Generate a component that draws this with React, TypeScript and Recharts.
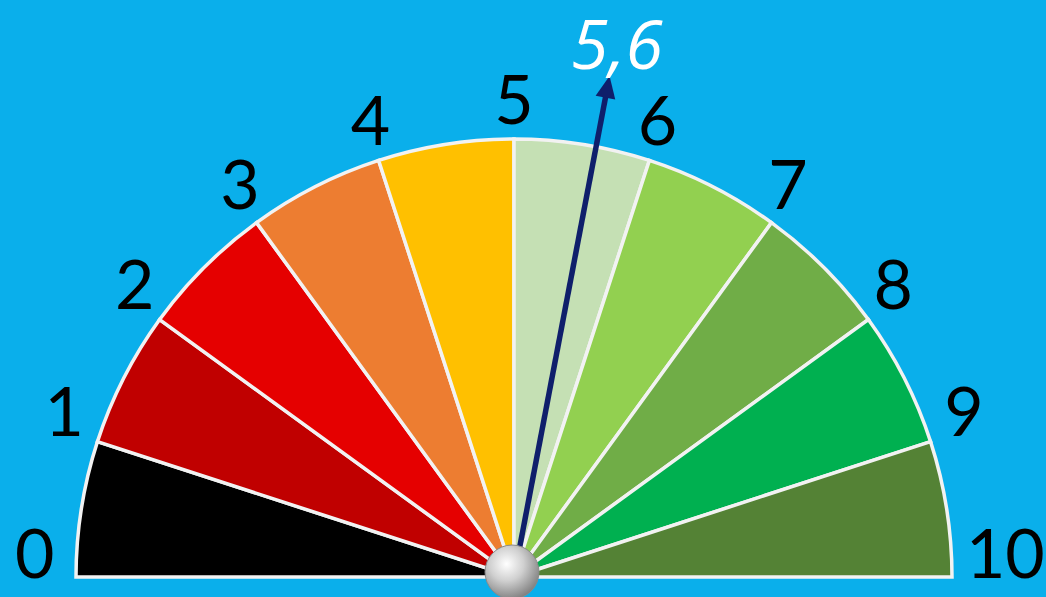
import { PieChart, Pie, Cell } from 'recharts';

const sectorNames = ['0-1', '1-2', '2-3', '3-4', '4-5', '5-6', '6-7', '7-8', '8-9', '9-10'];
const sectorValues = [1, 1, 1, 1, 1, 1, 1, 1, 1, 1];
const sectorColors = ['#000000', '#C00000', '#E50000', '#ED7D31', '#FFC000', '#C5E0B4', '#92D050', '#70AD47', '#00B050', '#548235'];
const tickLabels = ['0', '1', '2', '3', '4', '5', '6', '7', '8', '9', '10'];
const score = 5.6;
const maxScore = 10;
const scoreLabel = '5,6';

const CX = 514;
const CY = 577;
const R = 438;
const RAD = Math.PI / 180;

const sectorData = sectorNames.map((name, i) => ({ name, value: sectorValues[i] }));
const tickData = tickLabels.map((name) => ({ name, value: 1 }));
const needleData = [
  { name: 'score', value: score },
  { name: 'rest', value: maxScore - score },
];

const renderTick = (props: any) => {
  const { cx, cy, midAngle, index } = props;
  const r = index === 10 ? 492 : 480;
  const x = cx + r * Math.cos(-midAngle * RAD);
  const y = cy + r * Math.sin(-midAngle * RAD);
  return (
    <text x={x} y={y} fill="#000" fontSize={68} fontFamily="Lato, 'Open Sans', sans-serif" textAnchor="middle" dominantBaseline="central">
      {tickLabels[index]}
    </text>
  );
};

const renderNeedle = (props: any) => {
  const { cx, cy, endAngle, index } = props;
  if (index !== 0) return <g />;
  const angle = endAngle * RAD;
  const len = 510;
  const ux = Math.cos(angle);
  const uy = -Math.sin(angle);
  const tx = cx + len * ux;
  const ty = cy + len * uy;
  const px = -uy;
  const py = ux;
  const head = 22;
  const half = 10;
  const bx = tx - ux * head;
  const by = ty - uy * head;
  return (
    <g>
      <defs>
        <radialGradient id="knob" cx="40%" cy="35%" r="70%">
          <stop offset="0%" stopColor="#ffffff" />
          <stop offset="45%" stopColor="#d0d0d0" />
          <stop offset="100%" stopColor="#7a7a7a" />
        </radialGradient>
      </defs>
      <line x1={cx} y1={cy} x2={bx + ux * 2} y2={by + uy * 2} stroke="#0F1F6B" strokeWidth={5.5} />
      <polygon points={`${tx},${ty} ${bx + px * half},${by + py * half} ${bx - px * half},${by - py * half}`} fill="#0F1F6B" />
      <circle cx={cx - 2} cy={cy - 5} r={27} fill="url(#knob)" stroke="#8a8a8a" strokeWidth={1} />
      <text x={617} y={42} fill="#fff" fontSize={68} fontStyle="italic" fontFamily="'Open Sans', sans-serif" textAnchor="middle" dominantBaseline="central">
        {scoreLabel}
      </text>
    </g>
  );
};

export default function App() {
  return (
    <div style={{ position: 'fixed', left: 0, top: 0, width: 1046, height: 597, background: '#0AAFEB' }}>
      <PieChart width={1046} height={597} margin={{ top: 0, right: 0, bottom: 0, left: 0 }}>
        <Pie
          data={sectorData}
          dataKey="value"
          cx={CX}
          cy={CY}
          innerRadius={0}
          outerRadius={R}
          startAngle={180}
          endAngle={0}
          stroke="#F2F2F2"
          strokeWidth={3.5}
          isAnimationActive={false}
        >
          {sectorData.map((d, i) => (
            <Cell key={d.name} fill={sectorColors[i]} />
          ))}
        </Pie>
        <Pie
          data={tickData}
          dataKey="value"
          cx={CX}
          cy={CY}
          innerRadius={0}
          outerRadius={R}
          startAngle={185.7}
          endAngle={-5.7}
          fill="none"
          stroke="none"
          label={renderTick}
          labelLine={false}
          isAnimationActive={false}
        />
        <Pie
          data={needleData}
          dataKey="value"
          cx={CX}
          cy={CY}
          innerRadius={0}
          outerRadius={R}
          startAngle={180}
          endAngle={0}
          fill="none"
          stroke="none"
          label={renderNeedle}
          labelLine={false}
          isAnimationActive={false}
        />
      </PieChart>
    </div>
  );
}
